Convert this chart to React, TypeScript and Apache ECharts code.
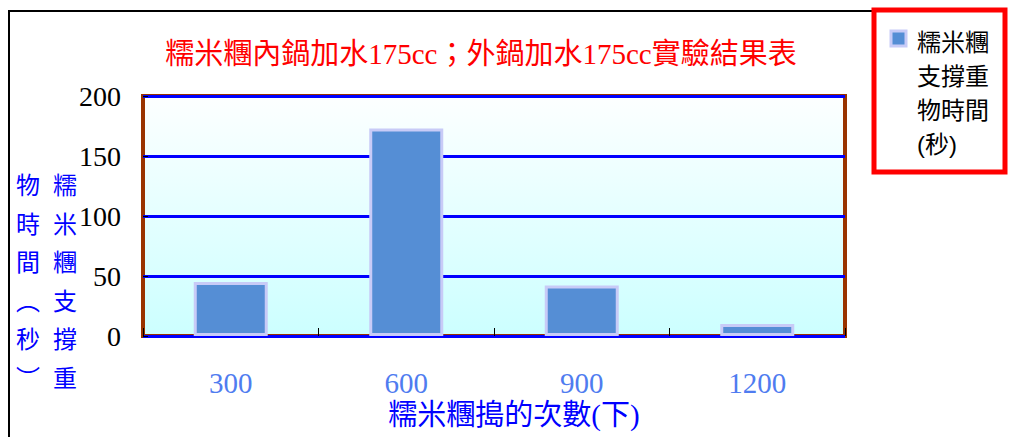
import React, { useEffect, useRef } from "react";
import * as echarts from "echarts";

const categories = ["300", "600", "900", "1200"];
const holdTimes = [45, 173, 42, 10];
const yTicks = { min: 0, max: 200, interval: 50 };
const titleText = "糯米糰內鍋加水175cc；外鍋加水175cc實驗結果表";
const seriesName = "糯米糰支撐重物時間(秒)";
const legendLines = ["糯米糰", "支撐重", "物時間", "(秒)"];
const xAxisName = "糯米糰搗的次數(下)";
const yNameCol1 = ["糯", "米", "糰", "支", "撐", "重"];
const yNameCol2 = ["物", "時", "間", "︵", "秒", "︶"];

const SERIF = "'Liberation Serif', 'Noto Sans CJK TC', serif";
const SANS = "'Liberation Sans', 'Noto Sans CJK TC', sans-serif";

export default function App() {
  const ref = useRef<HTMLDivElement>(null);
  useEffect(() => {
    if (!ref.current) return;
    const chart = echarts.init(ref.current, null, { renderer: "svg" });
    chart.setOption({
      animation: false,
      backgroundColor: "#ffffff",
      title: {
        text: titleText,
        left: 476,
        top: 34,
        textAlign: "center",
        textStyle: { color: "#ff0000", fontSize: 29, fontWeight: "normal", fontFamily: SERIF },
      },
      grid: {
        left: 143,
        top: 96,
        width: 702,
        height: 240,
        show: true,
        borderColor: "#993300",
        borderWidth: 4,
        backgroundColor: new echarts.graphic.LinearGradient(0, 0, 0, 1, [
          { offset: 0, color: "#fdffff" },
          { offset: 1, color: "#ccffff" },
        ]),
      },
      xAxis: {
        type: "category",
        data: categories,
        axisLine: { show: false },
        axisTick: { show: true, inside: true, length: 8, lineStyle: { color: "#000000", width: 1 } },
        axisLabel: { color: "#4f7cf0", fontSize: 29, fontFamily: SERIF, margin: 32 },
        splitLine: { show: false },
      },
      yAxis: {
        type: "value",
        min: yTicks.min,
        max: yTicks.max,
        interval: yTicks.interval,
        axisLine: { show: false },
        axisTick: { show: true, inside: true, length: 5, lineStyle: { color: "#000000" } },
        axisLabel: { color: "#000000", fontSize: 28, fontFamily: SERIF, margin: 22 },
        splitLine: { show: true, lineStyle: { color: "#0000ff", width: 3 } },
      },
      series: [
        {
          name: seriesName,
          type: "bar",
          data: holdTimes,
          barWidth: 74,
          itemStyle: { color: "#558ed5", borderColor: "#c8cbf7", borderWidth: 3 },
        },
      ],
      graphic: [
        { type: "line", shape: { x1: 8, y1: 11, x2: 872, y2: 11 }, style: { stroke: "#000", lineWidth: 2 } },
        { type: "line", shape: { x1: 9, y1: 11, x2: 9, y2: 437 }, style: { stroke: "#000", lineWidth: 2 } },
        {
          type: "rect",
          shape: { x: 874, y: 10, width: 131, height: 162 },
          style: { fill: "#ffffff", stroke: "#ff0000", lineWidth: 5 },
          z: 10,
        },
        {
          type: "rect",
          shape: { x: 891, y: 31, width: 15, height: 15 },
          style: { fill: "#558ed5", stroke: "#c8cbf7", lineWidth: 3 },
          z: 11,
        },
        {
          type: "text",
          x: 917,
          y: 25,
          z: 11,
          style: {
            text: legendLines.join("\n"),
            fill: "#000000",
            font: `24px ${SANS}`,
            lineHeight: 34,
          },
        },
        {
          type: "text",
          x: 65,
          y: 167,
          style: {
            text: yNameCol1.join("\n"),
            fill: "#0000ff",
            font: `24px ${SERIF}`,
            lineHeight: 38.5,
            align: "center",
          },
        },
        {
          type: "text",
          x: 28,
          y: 167,
          style: {
            text: yNameCol2.join("\n"),
            fill: "#0000ff",
            font: `24px ${SERIF}`,
            lineHeight: 38.5,
            align: "center",
          },
        },
        {
          type: "text",
          x: 514,
          y: 400,
          style: {
            text: xAxisName,
            fill: "#0000ff",
            font: `29px ${SERIF}`,
            align: "center",
          },
        },
      ],
    });
    return () => chart.dispose();
  }, []);
  return <div ref={ref} style={{ width: 1010, height: 437, position: "absolute", left: 0, top: 0 }} />;
}
